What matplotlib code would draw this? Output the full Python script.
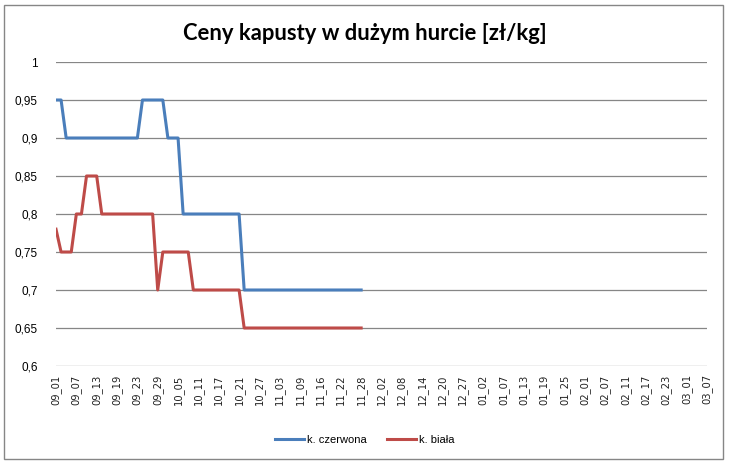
import numpy as np
import matplotlib
matplotlib.use("Agg")
import matplotlib.pyplot as plt
from matplotlib.patches import Rectangle

# ── Data ─────────────────────────────────────────────────────────────────────
# labelled dates (every 4th trading day on the category axis)
tick_labels = [
    "09_01", "09_07", "09_13", "09_19", "09_23", "09_29", "10_05", "10_11",
    "10_17", "10_21", "10_27", "11_03", "11_09", "11_16", "11_22", "11_28",
    "12_02", "12_08", "12_14", "12_20", "12_27", "01_02", "01_07", "01_13",
    "01_19", "01_25", "02_01", "02_07", "02_11", "02_17", "02_23", "03_01",
    "03_07",
]
label_step = 4  # categories between labels

# prices per trading day, from 09_01 to 11_28
k_czerwona = [
    0.95, 0.95, 0.90, 0.90, 0.90, 0.90, 0.90, 0.90, 0.90, 0.90,
    0.90, 0.90, 0.90, 0.90, 0.90, 0.90, 0.90, 0.95, 0.95, 0.95,
    0.95, 0.95, 0.90, 0.90, 0.90, 0.80, 0.80, 0.80, 0.80, 0.80,
    0.80, 0.80, 0.80, 0.80, 0.80, 0.80, 0.80, 0.70, 0.70, 0.70,
    0.70, 0.70, 0.70, 0.70, 0.70, 0.70, 0.70, 0.70, 0.70, 0.70,
    0.70, 0.70, 0.70, 0.70, 0.70, 0.70, 0.70, 0.70, 0.70, 0.70,
    0.70,
]
k_biala = [
    0.78, 0.75, 0.75, 0.75, 0.80, 0.80, 0.85, 0.85, 0.85, 0.80,
    0.80, 0.80, 0.80, 0.80, 0.80, 0.80, 0.80, 0.80, 0.80, 0.80,
    0.70, 0.75, 0.75, 0.75, 0.75, 0.75, 0.75, 0.70, 0.70, 0.70,
    0.70, 0.70, 0.70, 0.70, 0.70, 0.70, 0.70, 0.65, 0.65, 0.65,
    0.65, 0.65, 0.65, 0.65, 0.65, 0.65, 0.65, 0.65, 0.65, 0.65,
    0.65, 0.65, 0.65, 0.65, 0.65, 0.65, 0.65, 0.65, 0.65, 0.65,
    0.65,
]
y_ticks = [0.6, 0.65, 0.7, 0.75, 0.8, 0.85, 0.9, 0.95, 1.0]

# ── Figure ───────────────────────────────────────────────────────────────────
fig = plt.figure(figsize=(7.29, 4.65), dpi=100)
ax = fig.add_axes([56 / 729, 1 - 366 / 465, 651 / 729, 304 / 465])

# outer chart border
fig.patches.append(Rectangle((4 / 729, 1 - 459 / 465), 719 / 729, 454 / 465,
                             transform=fig.transFigure, fill=False,
                             edgecolor="#868686", linewidth=1.0))

n_cat = (len(tick_labels) - 1) * label_step
x = np.arange(len(k_czerwona))

ax.plot(x, k_czerwona, color="#4A7EBB", linewidth=2.2, label="k. czerwona",
        solid_joinstyle="round", zorder=3)
ax.plot(x, k_biala, color="#BE4B48", linewidth=2.2, label="k. biała",
        solid_joinstyle="round", zorder=3)

ax.set_xlim(0, n_cat)
ax.set_ylim(0.6, 1.0)
ax.set_yticks(y_ticks)
ax.set_yticklabels([f"{v:g}".replace(".", ",") for v in y_ticks],
                   fontsize=8.5, family="Liberation Sans")
ax.set_xticks(np.arange(0, n_cat + 1, label_step))
ax.set_xticklabels(tick_labels, rotation=90, fontsize=7.2, family="DejaVu Sans",
                   color="#222222")
ax.tick_params(axis="both", length=0)
ax.tick_params(axis="y", pad=13)
ax.tick_params(axis="x", pad=6)

ax.grid(axis="y", color="#868686", linewidth=0.9)
ax.set_axisbelow(True)
for s in ax.spines.values():
    s.set_visible(False)

fig.text(0.5, 1 - 33 / 465, "Ceny kapusty w dużym hurcie [zł/kg]",
         ha="center", va="center", fontsize=15.8, fontweight="bold",
         family="Lato")

fig.legend(loc="center", bbox_to_anchor=(0.5, 1 - 440 / 465), ncol=2,
           frameon=False, handlelength=2.6, handletextpad=0.3,
           columnspacing=1.8, prop={"family": "Liberation Sans", "size": 8})

fig.savefig("out.png", dpi=100)
